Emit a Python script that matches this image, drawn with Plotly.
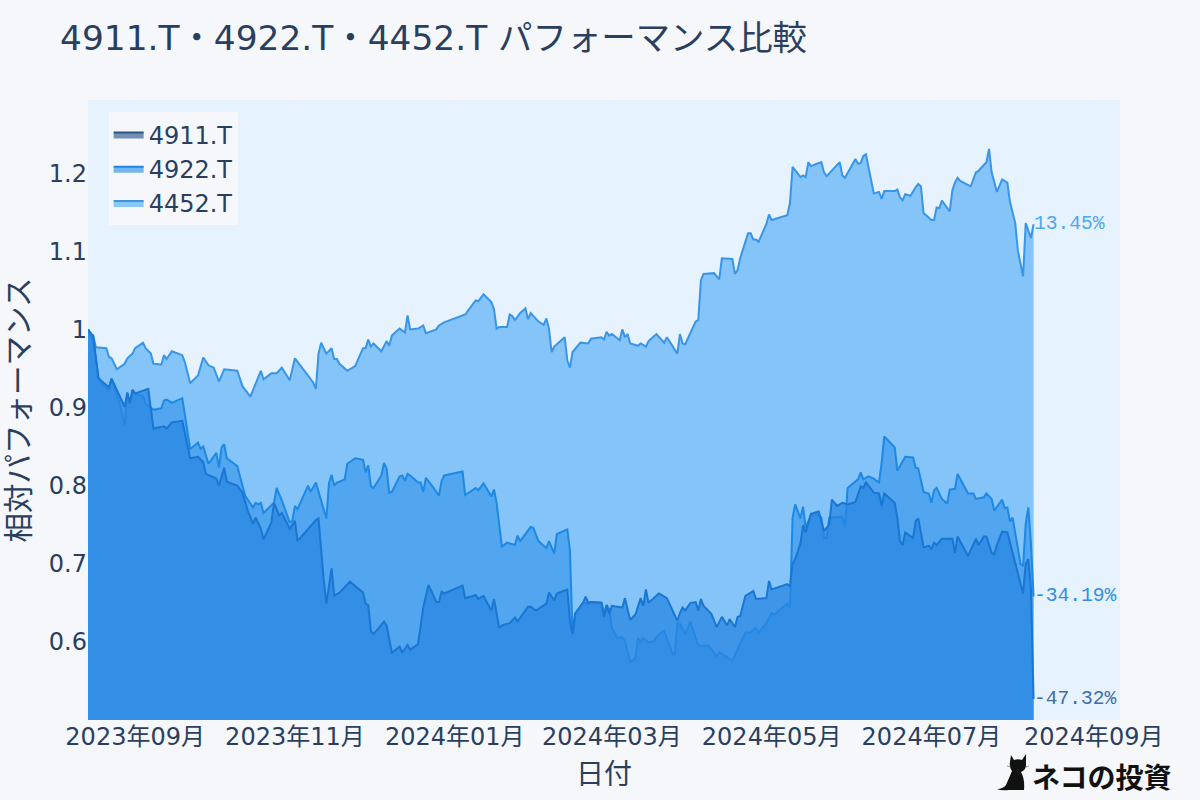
import base64
import pandas as pd
import plotly.graph_objects as go

title = "4911.T・4922.T・4452.T パフォーマンス比較"
start_date = "2023-08-14"
end_range = "2024-09-11"
y_ticks = [0.6, 0.7, 0.8, 0.9, 1, 1.1, 1.2]
y_labels = ["0.6", "0.7", "0.8", "0.9", "1", "1.1", "1.2"]

days_4911 = [0,2,4,8,9,14,15,16,17,18,23,25,29,30,32,36,39,42,44,45,49,50,52,53,57,59,61,63,64,66,67,70,71,73,74,77,79,80,87,88,90,91,93,94,96,100,105,106,107,108,109,112,113,114,116,119,120,122,123,126,128,130,133,134,135,136,143,144,148,149,151,154,155,157,158,161,163,164,168,169,171,175,176,178,179,183,184,185,186,189,190,191,192,196,197,198,199,200,204,205,207,209,211,212,213,214,218,221,225,226,227,228,230,232,233,234,235,238,240,242,244,245,247,248,249,251,254,255,259,260,261,267,268,269,270,272,273,274,276,279,281,283,284,286,288,290,293,295,296,297,300,302,303,304,308,309,310,311,312,315,316,317,319,321,322,323,324,326,330,331,332,336,339,340,342,343,345,346,347,349,351,357,358,359,360,361]
vals_4911 = [1.000,.991,.937,.926,.937,.901,.919,.905,.922,.918,.924,.873,.876,.873,.881,.883,.835,.837,.830,.815,.809,.800,.823,.805,.800,.791,.768,.751,.759,.745,.731,.753,.778,.762,.765,.745,.755,.729,.756,.758,.679,.649,.694,.659,.663,.677,.663,.649,.647,.614,.610,.623,.626,.621,.586,.594,.586,.596,.590,.597,.644,.673,.651,.651,.664,.662,.672,.656,.660,.655,.659,.640,.655,.618,.621,.624,.631,.626,.645,.645,.640,.649,.663,.653,.662,.667,.627,.610,.636,.650,.658,.650,.651,.650,.632,.647,.636,.646,.644,.656,.628,.635,.656,.646,.667,.650,.662,.656,.627,.637,.644,.640,.650,.651,.640,.655,.646,.636,.619,.632,.621,.629,.619,.632,.633,.659,.665,.655,.656,.678,.667,.674,.671,.700,.706,.726,.749,.740,.764,.767,.742,.750,.782,.774,.778,.776,.779,.799,.797,.804,.791,.790,.774,.790,.778,.759,.729,.724,.740,.733,.755,.758,.721,.723,.719,.727,.724,.732,.732,.714,.735,.710,.732,.724,.735,.735,.714,.712,.724,.741,.740,.662,.700,.706,.669,.5268]

days_4922 = [0,2,4,8,9,12,14,15,16,17,18,21,22,25,28,29,30,32,36,39,42,43,44,46,49,50,51,52,53,57,60,63,64,65,66,67,71,72,74,77,78,79,80,84,85,87,91,92,93,94,95,96,98,99,102,105,106,107,108,109,112,113,114,115,116,119,120,121,122,123,126,127,128,129,132,134,135,136,143,144,148,149,151,154,155,156,158,160,163,164,165,169,170,172,175,176,178,179,183,184,185,186,189,191,192,196,197,198,199,200,202,204,205,207,209,210,211,212,214,216,218,220,223,224,225,226,228,230,233,237,240,241,245,246,251,253,255,256,259,261,262,267,268,269,270,272,273,274,276,278,280,281,282,283,288,289,290,294,295,296,298,300,302,303,304,308,309,312,315,316,317,319,321,322,323,324,326,328,329,331,332,336,338,339,342,343,345,346,349,350,351,352,353,356,357,358,359,360,361]
vals_4922 = [1.000,.986,.938,.921,.937,.906,.877,.919,.906,.923,.917,.915,.905,.897,.899,.909,.910,.906,.912,.847,.855,.847,.850,.828,.842,.823,.849,.853,.835,.825,.787,.772,.778,.776,.778,.765,.778,.797,.781,.753,.755,.774,.770,.800,.792,.804,.758,.803,.814,.800,.804,.805,.808,.828,.835,.833,.817,.826,.799,.797,.813,.829,.822,.791,.792,.812,.813,.806,.815,.813,.804,.804,.792,.810,.797,.787,.806,.813,.818,.788,.797,.794,.803,.786,.795,.778,.722,.727,.724,.736,.729,.747,.746,.729,.720,.729,.713,.738,.744,.717,.610,.636,.650,.649,.651,.650,.637,.647,.642,.618,.605,.606,.601,.574,.579,.605,.600,.605,.599,.601,.610,.614,.586,.583,.624,.623,.610,.626,.595,.595,.581,.587,.578,.576,.612,.612,.618,.612,.624,.637,.635,.649,.644,.759,.776,.758,.773,.746,.762,.764,.759,.733,.733,.759,.760,.747,.797,.808,.817,.808,.812,.809,.804,.829,.863,.849,.819,.837,.836,.823,.822,.792,.790,.778,.794,.797,.783,.777,.795,.796,.815,.790,.790,.783,.785,.790,.783,.768,.782,.771,.772,.754,.759,.700,.697,.751,.772,.726,.6581]

days_4452 = [0,1,2,3,7,8,9,11,14,15,17,18,21,22,24,25,28,29,30,32,36,37,39,42,44,46,48,50,52,57,59,62,66,67,70,72,74,77,79,86,87,88,89,91,93,94,95,96,99,102,105,106,107,108,109,112,114,115,116,119,121,122,123,126,128,129,133,134,136,144,148,149,151,154,155,156,157,160,161,162,163,165,167,168,169,172,174,175,176,177,178,182,183,184,185,188,191,192,196,197,198,199,200,203,204,205,206,207,210,211,213,214,217,220,221,224,225,226,227,228,232,233,234,235,239,241,242,246,247,248,249,252,253,254,255,256,259,260,261,267,268,269,272,273,274,275,276,279,280,281,282,287,288,289,293,294,295,296,297,300,302,303,304,308,309,310,311,312,314,316,317,318,319,322,323,324,325,326,329,330,331,332,333,337,339,340,343,344,345,347,349,351,352,354,355,357,358,360,361]
vals_4452 = [1.000,.990,.992,.977,.976,.965,.963,.949,.956,.963,.969,.976,.983,.976,.969,.956,.955,.967,.962,.972,.967,.958,.931,.941,.964,.954,.951,.933,.949,.947,.927,.914,.947,.936,.944,.944,.951,.935,.963,.932,.924,.969,.983,.969,.976,.962,.962,.956,.947,.953,.976,.976,.987,.978,.982,.972,.985,.979,.992,1.001,.996,1.018,1.000,1.001,1.005,.995,1.000,1.005,1.009,1.019,1.037,1.036,1.045,1.035,1.026,1.001,1.003,1.003,1.019,1.017,1.012,1.021,1.027,1.013,1.021,1.010,1.006,1.014,1.001,.971,.978,.990,.960,.951,.971,.983,.982,.988,.990,.987,.997,.992,.994,.986,1.000,.990,.994,.982,.979,.982,.978,.985,.994,.983,.990,.973,.969,.994,.982,.981,1.010,1.012,1.063,1.071,1.072,1.064,1.091,1.090,1.071,1.076,1.091,1.123,1.123,1.115,1.115,1.112,1.135,1.147,1.140,1.146,1.162,1.208,1.195,1.197,1.195,1.214,1.209,1.213,1.214,1.201,1.196,1.214,1.197,1.194,1.218,1.212,1.213,1.222,1.224,1.174,1.176,1.167,1.177,1.177,1.179,1.169,1.165,1.173,1.171,1.182,1.186,1.183,1.149,1.140,1.140,1.156,1.155,1.165,1.151,1.178,1.188,1.194,1.190,1.183,1.201,1.203,1.214,1.231,1.201,1.176,1.192,1.188,1.163,1.136,1.101,1.068,1.136,1.117,1.1345]

FONT = "'DejaVu Sans', 'Noto Sans CJK JP', sans-serif"
TEXT = "#2a3f5f"
PAPER = "#f5f7fb"
PLOT = "#e6f2fe"
GRID = "#e9effb"
MONO = "'Liberation Mono', monospace"

# name, days, values, line, fill, label, label colour, legend line, legend fill  (drawn bottom to top)
series = [
    ("4452.T", days_4452, vals_4452, "#3895e8", "rgba(66,165,245,0.6)", "13.45%", "#4ea8f0", "#3895e8", "rgba(66,165,245,0.6)"),
    ("4922.T", days_4922, vals_4922, "#1E88E5", "rgba(30,136,229,0.5)", "-34.19%", "#2f8fe6", "#1E88E5", "rgba(30,136,229,0.6)"),
    ("4911.T", days_4911, vals_4911, "#1976D2", "rgba(40,135,225,0.75)", "-47.32%", "#3f6fa5", "#2a5688", "rgba(60,100,150,0.7)"),
]

t0 = pd.Timestamp(start_date)
fig = go.Figure()
annotations = []
for name, days, vals, color, fill, pct, label_color, leg_line, leg_fill in series:
    x = [(t0 + pd.Timedelta(days=d)).strftime("%Y-%m-%d") for d in days]
    fig.add_trace(go.Scatter(x=x, y=vals, name=name, mode="lines", fill="tozeroy", showlegend=False,
                             fillcolor=fill, line=dict(color=color, width=2)))
    fig.add_trace(go.Scatter(x=[None], y=[None], name=name, mode="lines", fill="tozeroy",
                             fillcolor=leg_fill, line=dict(color=leg_line, width=2)))
    annotations.append(dict(x=x[-1], y=vals[-1], text=pct, showarrow=False, xanchor="left",
                            yanchor="middle", xshift=-2, font=dict(family=MONO, size=19.6, color=label_color)))

annotations.append(dict(xref="paper", yref="paper", x=1.0517, y=-0.0905, text="<b>ネコの投資</b>",
                        showarrow=False, xanchor="right", yanchor="middle",
                        font=dict(family="'Noto Sans CJK JP'", size=28, color="#111111")))

cat_svg = ('<svg xmlns="http://www.w3.org/2000/svg" viewBox="0 0 32 40">'
           '<path d="M14 3 L17 8 Q21 6.5 25 8 L29 2 L29 13 Q29 18 24 20 Q28 27 27 38 L12 38 '
           'Q4 39 0 37 Q6 37 9 33 Q12 26 15 19 Q12 15 13 10 Z" fill="#111"/>'
           '<path d="M10 14 L14 15 M29 15 L32 14" stroke="#555" stroke-width="0.6"/></svg>')
cat_uri = "data:image/svg+xml;base64," + base64.b64encode(cat_svg.encode()).decode()

fig.update_layout(
    width=1200, height=800,
    margin=dict(l=88, r=80, t=100, b=80, autoexpand=False),
    paper_bgcolor=PAPER, plot_bgcolor=PLOT,
    font=dict(family=FONT, color=TEXT, size=24),
    title=dict(text=title, x=0.05, xanchor="left", y=0.953, yanchor="middle",
               font=dict(family=FONT, size=34.4, color=TEXT)),
    showlegend=True,
    legend=dict(x=0.02, y=0.98, xanchor="left", yanchor="top", bgcolor=PAPER,
                font=dict(family=FONT, size=24, color=TEXT), traceorder="reversed"),
    xaxis=dict(type="date", range=[start_date, end_range], tickformat="%Y年%m月",
               tick0="2023-09-01", dtick="M2", ticklabelmode="instant", showgrid=True, gridcolor=GRID,
               zeroline=False, tickfont=dict(size=24), title=dict(text="日付", font=dict(size=28), standoff=14),
               automargin=False),
    yaxis=dict(range=[0.5, 1.2936], tickmode="array", tickvals=y_ticks, ticktext=y_labels,
               showgrid=True, gridcolor=GRID, zeroline=False, tickfont=dict(size=24),
               title=dict(text="相対パフォーマンス", font=dict(size=29.5), standoff=10),
               automargin=False),
    annotations=annotations,
    images=[dict(source=cat_uri, xref="paper", yref="paper", x=(997-88)/1032, y=(720-752)/620,
                 sizex=32/1032, sizey=40/620, xanchor="left", yanchor="top", sizing="stretch", layer="above")],
)
fig.write_html("out.html", config={"displayModeBar": False},
               post_script="document.body.style.margin='0';document.documentElement.style.overflow='hidden';")
